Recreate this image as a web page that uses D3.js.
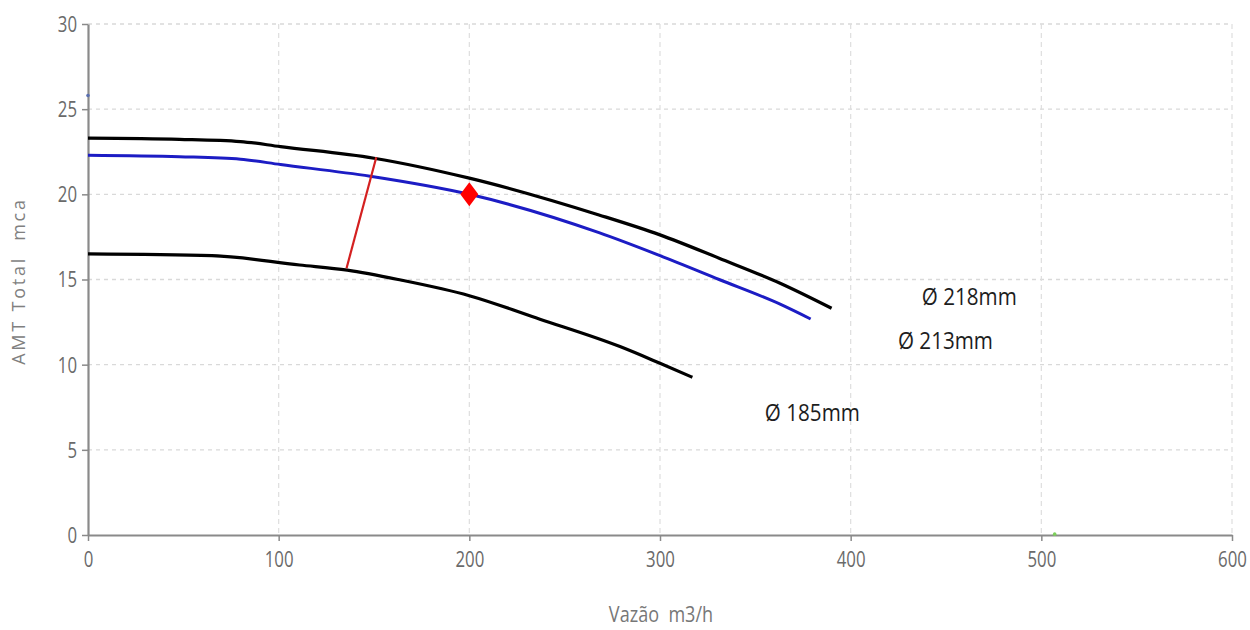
<!DOCTYPE html>
<html>
<head>
<meta charset="utf-8">
<script src="https://cdn.jsdelivr.net/npm/d3@7"></script>
<style>
  html, body { margin: 0; padding: 0; background: #fff; }
  svg { display: block; }
</style>
</head>
<body>
<svg id="chart" width="1250" height="630"></svg>
<script>
// ---- data ----
const xTicks = [0, 100, 200, 300, 400, 500, 600];
const yTicks = [0, 5, 10, 15, 20, 25, 30];

const flow218 = [0, 48, 80, 101, 150, 200, 268, 300, 331, 363, 390];
const head218 = [23.3, 23.23, 23.1, 22.8, 22.12, 20.95, 18.79, 17.62, 16.25, 14.78, 13.31];

const flow213 = [0, 48, 80, 101, 148, 200, 268, 300, 331, 363, 379];
const head213 = [22.3, 22.21, 22.06, 21.75, 21.06, 20.0, 17.75, 16.4, 15.0, 13.55, 12.68];

const flow185 = [0, 65, 111, 136, 164, 200, 237, 279, 300, 317];
const head185 = [16.5, 16.4, 15.85, 15.55, 14.97, 14.05, 12.67, 11.06, 10.08, 9.26];

const redLineFlow = [135.6, 151.2];
const redLineHead = [15.66, 22.18];

const dutyFlow = [200];
const dutyHead = [20];

const labelNames = ["Ø 218mm", "Ø 213mm", "Ø 185mm"];
const labelFlow = [437.3, 424.8, 355];
const labelHead = [13.97, 11.39, 7.16];

const strayFlow = [0, 507];
const strayHead = [25.8, 0.05];
const strayColor = ["#5a6fb0", "#7ccf5a"];

const xTitle = "Vazão  m3/h";
const yTitle = "AMT Total  mca";

// ---- layout ----
(function () {
const svg = d3.select("#chart");
const mLeft = 88, mRight = 1232, mTop = 24, mBottom = 535;
const x = d3.scaleLinear().domain([0, 600]).range([mLeft, mRight]);
const y = d3.scaleLinear().domain([0, 30]).range([mBottom, mTop]);

const font = "'Open Sans', 'Noto Sans', sans-serif";
const sxTick = 0.8;
const sxText = 0.86;

// grid
svg.append("g").selectAll("line").data(yTicks.filter(d => d > 0)).join("line")
  .attr("x1", mLeft).attr("x2", mRight)
  .attr("y1", d => y(d)).attr("y2", d => y(d))
  .attr("stroke", "#d9d9d9").attr("stroke-width", 1.3).attr("stroke-dasharray", "4,4");
svg.append("g").selectAll("line").data(xTicks.filter(d => d > 0)).join("line")
  .attr("x1", d => x(d)).attr("x2", d => x(d))
  .attr("y1", mTop).attr("y2", mBottom)
  .attr("stroke", "#dedede").attr("stroke-width", 1.2).attr("stroke-dasharray", "5,4");

// axes
const xAxis = svg.append("g").attr("transform", `translate(0,${mBottom})`)
  .call(d3.axisBottom(x).tickValues(xTicks).tickSize(6).tickPadding(11).tickSizeOuter(0));
const yAxis = svg.append("g").attr("transform", `translate(${mLeft},0)`)
  .call(d3.axisLeft(y).tickValues(yTicks).tickSize(6).tickPadding(5).tickSizeOuter(0));
[xAxis, yAxis].forEach(g => {
  g.select(".domain").attr("stroke", "#8a8a8a").attr("stroke-width", 2.2);
  g.selectAll(".tick line").attr("stroke", "#8a8a8a").attr("stroke-width", 1.5);
  g.selectAll(".tick text").attr("fill", "#6a6a6a")
    .style("font-family", font).style("font-size", "21px");
});
xAxis.selectAll(".tick text").attr("transform", `scale(${sxTick},1)`);
yAxis.selectAll(".tick text").attr("x", 0)
  .attr("transform", `translate(-11,0) scale(${sxTick},1)`).attr("dy", "0.35em");

// curves
const lineGen = d3.line().x(d => x(d[0])).y(d => y(d[1])).curve(d3.curveMonotoneX);
function drawCurve(fl, hd, color, w) {
  svg.append("path").datum(fl.map((f, i) => [f, hd[i]]))
    .attr("d", lineGen).attr("fill", "none")
    .attr("stroke", color).attr("stroke-width", w).attr("stroke-linecap", "butt");
}
drawCurve(flow185, head185, "#000", 3.2);
drawCurve(flow218, head218, "#000", 3.2);
drawCurve(flow213, head213, "#1c1cc4", 3);

// red line
svg.append("line")
  .attr("x1", x(redLineFlow[0])).attr("y1", y(redLineHead[0]))
  .attr("x2", x(redLineFlow[1])).attr("y2", y(redLineHead[1]))
  .attr("stroke", "#d42020").attr("stroke-width", 2.2);

// duty point diamond
svg.append("g").selectAll("path").data(dutyFlow.map((f, i) => [f, dutyHead[i]])).join("path")
  .attr("transform", d => `translate(${x(d[0])},${y(d[1])})`)
  .attr("d", "M0,-12L9,0L0,12L-9,0Z")
  .attr("fill", "#ff0000");

// stray points
svg.append("g").selectAll("circle").data(strayFlow.map((f, i) => [f, strayHead[i], strayColor[i]])).join("circle")
  .attr("cx", d => x(d[0])).attr("cy", d => y(d[1])).attr("r", 1.8)
  .attr("fill", d => d[2]);

// curve labels
svg.append("g").selectAll("text").data(labelNames).join("text")
  .attr("transform", (d, i) => `translate(${x(labelFlow[i])},${y(labelHead[i])}) scale(${sxText},1)`)
  .attr("dy", "0.35em")
  .style("font-family", font).style("font-size", "24px")
  .attr("fill", "#1e1e1e")
  .text(d => d);

// axis titles
svg.append("text")
  .attr("transform", `translate(661,622) scale(${sxText},1)`)
  .attr("text-anchor", "middle")
  .style("white-space", "pre")
  .style("font-family", font).style("font-size", "21px").attr("fill", "#777")
  .text(xTitle);
svg.append("text")
  .attr("transform", `translate(25,281) rotate(-90)`)
  .attr("text-anchor", "middle")
  .style("white-space", "pre")
  .style("font-family", font).style("font-size", "18px").style("letter-spacing", "2.8px")
  .attr("fill", "#808080")
  .text(yTitle);
})();
</script>
</body>
</html>
